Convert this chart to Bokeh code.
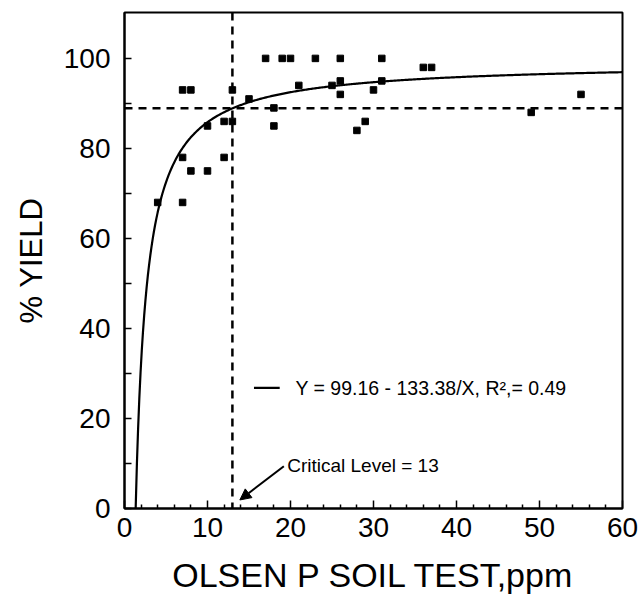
from bokeh.plotting import figure
from bokeh.models import FixedTicker, Label, Arrow, NormalHead, Span
from bokeh.embed import file_html
from bokeh.resources import INLINE
import numpy as np

# Olsen P soil test (ppm) and relative yield (%) observations
olsen_p = [4, 7, 7, 7, 8, 8, 10, 10, 12, 12, 13, 13, 15, 17, 18, 18, 19, 20,
           21, 23, 25, 26, 26, 26, 28, 29, 30, 31, 31, 36, 37, 49, 55]
yield_pct = [68, 68, 78, 93, 93, 75, 75, 85, 78, 86, 86, 93, 91, 100, 89, 85, 100, 100,
             94, 100, 94, 100, 95, 92, 84, 86, 93, 100, 95, 98, 98, 88, 92]

# fitted model Y = a - b/X and its critical level
fit_a = 99.16
fit_b = 133.38
critical_level = 13

x_ticks = [0, 10, 20, 30, 40, 50, 60]
x_minor = [2, 4, 6, 8, 12, 14, 16, 18, 22, 24, 26, 28, 32, 34, 36, 38,
           42, 44, 46, 48, 52, 54, 56, 58]
y_ticks = [0, 20, 40, 60, 80, 100]
y_minor = [10, 30, 50, 70, 90]

FONT = "Liberation Sans"

p = figure(width=642, height=603, x_range=(0, 60), y_range=(0, 110.2),
           output_backend="svg", toolbar_location=None,
           min_border_left=124, min_border_right=20,
           min_border_top=12, min_border_bottom=95)
p.background_fill_color = "white"
p.border_fill_color = "white"
p.grid.visible = False
p.outline_line_color = "black"
p.outline_line_width = 2

for ax in (p.xaxis, p.yaxis):
    ax.axis_line_width = 2
    ax.axis_line_color = "black"
    ax.major_tick_line_color = "black"
    ax.minor_tick_line_color = "black"
    ax.major_tick_line_width = 1.5
    ax.minor_tick_line_width = 1.5
    ax.major_tick_out = 0
    ax.minor_tick_out = 0
    ax.major_label_text_font = FONT
    ax.major_label_text_font_size = "28px"
    ax.major_label_text_color = "black"
    ax.axis_label_text_font = FONT
    ax.axis_label_text_font_style = "normal"
    ax.axis_label_text_color = "black"

p.xaxis.ticker = FixedTicker(ticks=x_ticks, minor_ticks=x_minor)
p.xaxis.major_tick_in = 8
p.xaxis.minor_tick_in = 4
p.xaxis.major_label_standoff = 9
p.xaxis.axis_label = "OLSEN P SOIL TEST,ppm"
p.xaxis.axis_label_text_font_size = "34px"
p.xaxis.axis_label_standoff = 16

p.yaxis.ticker = FixedTicker(ticks=y_ticks, minor_ticks=y_minor)
p.yaxis.major_tick_in = 7
p.yaxis.minor_tick_in = 7
p.yaxis.major_label_standoff = 14
p.yaxis.axis_label = "% YIELD"
p.yaxis.axis_label_text_font_size = "31px"
p.yaxis.axis_label_standoff = 12

# critical-level guide lines
y_crit = fit_a - fit_b / critical_level
p.add_layout(Span(location=critical_level, dimension="height", line_color="black",
                  line_width=2.5, line_dash="8 6"))
p.add_layout(Span(location=y_crit, dimension="width", line_color="black",
                  line_width=2.5, line_dash="8 6"))

# fitted response curve
x_fit = np.linspace(fit_b / fit_a, 60, 400)
p.line(x_fit, fit_a - fit_b / x_fit, line_color="black", line_width=2.2)

# observations
p.scatter(olsen_p, yield_pct, marker="square", size=6.5, fill_color="black",
          line_color="black")

# equation key
p.line([15.6, 18.7], [26.8, 26.8], line_color="black", line_width=2.2)
p.add_layout(Label(x=20.6, y=26.8, text="Y = 99.16 - 133.38/X, R\u00b2,= 0.49",
                   text_font=FONT, text_font_size="19.5px", text_color="black",
                   text_baseline="middle", text_align="left"))

# critical level annotation
p.add_layout(Label(x=19.6, y=9.6, text="Critical Level = 13",
                   text_font=FONT, text_font_size="19px", text_color="black",
                   text_baseline="middle", text_align="left"))
p.add_layout(Arrow(x_start=19.2, y_start=9.4, x_end=13.9, y_end=1.9,
                   line_color="black", line_width=2,
                   end=NormalHead(size=11, fill_color="black", line_color="black")))

open("out.html", "w").write(file_html(p, INLINE))
